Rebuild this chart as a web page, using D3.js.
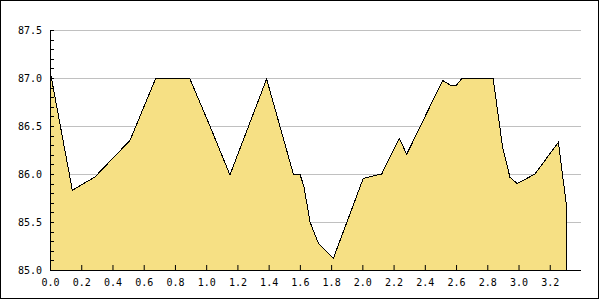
<!DOCTYPE html>
<html>
<head>
<meta charset="utf-8">
<script src="https://cdn.jsdelivr.net/npm/d3@7"></script>
<style>
  html, body { margin: 0; padding: 0; background: #fff; }
  svg { display: block; }
  text { font-family: "DejaVu Sans Mono", monospace; font-size: 10px; fill: #000; }
</style>
</head>
<body>
<svg id="chart" width="600" height="300"></svg>
<script>
// ---- data ----
const xValues = [0, 0.143, 0.288, 0.512, 0.678, 0.785, 0.79, 0.896, 1.024, 1.152, 1.387, 1.558, 1.60, 1.626, 1.665, 1.718, 1.814, 2.006, 2.124, 2.237, 2.284, 2.514, 2.57, 2.60, 2.64, 2.775, 2.838, 2.898, 2.945, 2.992, 3.105, 3.255, 3.304];
const yValues = [87.08, 85.83, 85.97, 86.35, 87.0, 87.0, 86.99, 86.99, 86.5, 85.99, 86.99, 86.0, 86.0, 85.87, 85.5, 85.28, 85.12, 85.955, 86.0, 86.37, 86.205, 86.975, 86.92, 86.92, 87.0, 87.0, 86.99, 86.28, 85.965, 85.90, 86.0, 86.33, 85.71];
const xTicks = [0, 0.2, 0.4, 0.6, 0.8, 1.0, 1.2, 1.4, 1.6, 1.8, 2.0, 2.2, 2.4, 2.6, 2.8, 3.0, 3.2];
const yMajorTicks = [85.0, 85.5, 86.0, 86.5, 87.0, 87.5];
const yMinorTicks = d3.range(0, 26).map(i => 85 + i * 0.1);
const xDomain = [0, 3.4];
const yDomain = [85, 87.5];

// ---- layout ----
const svg = d3.select("#chart");
const pLeft = 50, pRight = 581, pTop = 30, pBottom = 270;
const x = d3.scaleLinear().domain(xDomain).range([pLeft, pRight]);
const y = d3.scaleLinear().domain(yDomain).range([pBottom, pTop]);
const data = xValues.map((v, i) => ({ x: v, y: yValues[i] }));

// outer frame
svg.append("rect").attr("x", 0.5).attr("y", 0.5).attr("width", 598).attr("height", 298)
  .attr("fill", "#fff").attr("stroke", "#000").attr("stroke-width", 1);

// gridlines
svg.append("g").selectAll("line").data(yMajorTicks).join("line")
  .attr("x1", pLeft).attr("x2", pRight)
  .attr("y1", d => Math.round(y(d)) + 0.5).attr("y2", d => Math.round(y(d)) + 0.5)
  .attr("stroke", "#c0c0c0").attr("stroke-width", 1);

// area
const area = d3.area().x(d => x(d.x)).y0(y(85)).y1(d => y(d.y));
svg.append("path").datum(data).attr("d", area).attr("fill", "#f6e084").attr("stroke", "none");

// outline (including right drop to baseline)
const last = data[data.length - 1];
const outline = data.concat([{ x: last.x, y: 85 }]);
const line = d3.line().x(d => x(d.x)).y(d => y(d.y));
svg.append("path").datum(outline).attr("d", line)
  .attr("fill", "none").attr("stroke", "#000").attr("stroke-width", 1)
  .attr("shape-rendering", "crispEdges");

// x axis
const xAxis = d3.axisBottom(x).tickValues(xTicks).tickSize(-5).tickPadding(9)
  .tickFormat(d3.format(".1f"));
const gx = svg.append("g").attr("transform", `translate(0,${pBottom})`).call(xAxis);
gx.select(".domain").attr("d", `M${pLeft},0.5H${pRight}`).attr("stroke", "#000");
gx.selectAll(".tick line").attr("stroke", "#000");
gx.selectAll("text").attr("font-family", "DejaVu Sans Mono").attr("font-size", 10).attr("fill", "#000");

// y axis minor ticks
svg.append("g").selectAll("line").data(yMinorTicks).join("line")
  .attr("x1", pLeft).attr("x2", pLeft + 4)
  .attr("y1", d => Math.round(y(d)) + 0.5).attr("y2", d => Math.round(y(d)) + 0.5)
  .attr("stroke", "#000");

// y axis
const yAxis = d3.axisLeft(y).tickValues(yMajorTicks).tickSize(0).tickPadding(8)
  .tickFormat(d3.format(".1f"));
const gy = svg.append("g").attr("transform", `translate(${pLeft},0)`).call(yAxis);
gy.select(".domain").attr("d", `M0.5,${pTop}V${pBottom}`).attr("stroke", "#000");
gy.selectAll("text").attr("font-family", "DejaVu Sans Mono").attr("font-size", 10).attr("fill", "#000");
</script>
</body>
</html>
